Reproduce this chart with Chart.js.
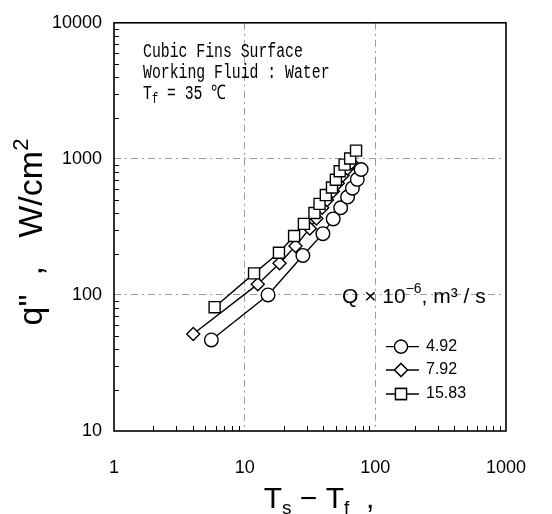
<!DOCTYPE html>
<html>
<head>
<meta charset="utf-8">
<script src="https://cdn.jsdelivr.net/npm/chart.js@4.4.1/dist/chart.umd.min.js"></script>
<style>
  html, body { margin: 0; padding: 0; background: #fff; }
</style>
</head>
<body>
<canvas id="myChart" width="552" height="514"></canvas>
<script>
// values (x = Ts - Tf, y = q'' in W/cm2)
const q492_x = [5.56, 15.1, 27.9, 39.7, 47.6, 54.3, 61.3, 66.8, 72.8, 77.9];
const q492_y = [46.7, 100, 195, 282, 362, 437, 524, 609, 707, 835];

const q792_x = [4.04, 12.6, 18.5, 24.5, 31.5, 35.4, 39.2, 42.7, 47.4, 51.6, 56.2, 61.3, 65.6];
const q792_y = [51.6, 120, 171, 229, 308, 364, 437, 499, 579, 661, 755, 848, 937];

const q1583_x = [5.89, 11.8, 18.3, 23.9, 28.4, 34.2, 37.4, 41.8, 46.6, 49.9, 53.4, 58.2, 64.2, 71.2];
const q1583_y = [81.3, 144, 204, 271, 333, 400, 467, 542, 616, 703, 811, 907, 1007, 1150];

const xTicks = [1, 10, 100, 1000];
const yTicks = [10, 100, 1000, 10000];
const seriesLabels = ['4.92', '7.92', '15.83'];
const seriesMarkers = ['circle', 'rectRot', 'rect'];

const SANS = '"Liberation Sans", Arial, sans-serif';

function pts(xs, ys) {
  return xs.map((x, i) => ({ x: x, y: ys[i] }));
}

function ds(xs, ys, marker, r) {
  return {
    data: pts(xs, ys),
    showLine: true,
    borderColor: '#000',
    borderWidth: 1.4,
    pointStyle: marker,
    pointRadius: r,
    pointBackgroundColor: '#fff',
    pointBorderColor: '#000',
    pointBorderWidth: 1.4
  };
}

// draw a run of text pieces (sub/superscripts) starting at x
function drawRuns(ctx, x, y, runs, align) {
  let w = 0;
  runs.forEach(r => { ctx.font = r.font; w += ctx.measureText(r.t).width; });
  let cx = align === 'center' ? x - w / 2 : x;
  runs.forEach(r => {
    ctx.font = r.font;
    ctx.fillText(r.t, cx, y + (r.dy || 0));
    cx += ctx.measureText(r.t).width;
  });
}

const framePlugin = {
  id: 'frame',
  afterDatasetsDraw(chart) {
    const ctx = chart.ctx, a = chart.chartArea;
    const xs = chart.scales.x, ys = chart.scales.y;
    ctx.save();
    ctx.strokeStyle = '#000';
    ctx.lineWidth = 1;
    // minor ticks on left and bottom
    ctx.beginPath();
    for (let d = 1; d < 1000; d *= 10) {
      for (let k = 2; k <= 9; k++) {
        const px = Math.round(xs.getPixelForValue(d * k)) + 0.5;
        ctx.moveTo(px, a.bottom);
        ctx.lineTo(px, a.bottom - 5);
      }
    }
    for (let d = 10; d < 10000; d *= 10) {
      for (let k = 2; k <= 9; k++) {
        const py = Math.round(ys.getPixelForValue(d * k)) + 0.5;
        ctx.moveTo(a.left, py);
        ctx.lineTo(a.left + 5, py);
      }
    }
    ctx.stroke();
    ctx.lineWidth = 1.6;
    ctx.strokeRect(a.left, a.top, a.right - a.left, a.bottom - a.top);
    ctx.restore();
  }
};

const textPlugin = {
  id: 'texts',
  afterDraw(chart) {
    const ctx = chart.ctx;
    ctx.save();
    ctx.fillStyle = '#000';
    ctx.textBaseline = 'alphabetic';

    // note box, narrow monospace like the original
    ctx.save();
    ctx.translate(143, 0);
    ctx.scale(0.74, 1);
    const mono = '20px "Liberation Mono", "DejaVu Sans Mono", monospace';
    const monoSm = '14px "Liberation Mono", "DejaVu Sans Mono", monospace';
    ctx.font = mono;
    ctx.fillText('Cubic Fins Surface', 0, 57);
    ctx.fillText('Working Fluid : Water', 0, 78);
    drawRuns(ctx, 0, 99, [
      { t: 'T', font: mono },
      { t: 'f', font: monoSm, dy: 4 },
      { t: ' = 35 \u2103', font: mono }
    ]);
    ctx.restore();

    // legend title
    const f20 = '21px ' + SANS, f14 = '14px ' + SANS;
    drawRuns(ctx, 342, 303, [
      { t: 'Q \u00d7 10', font: f20 },
      { t: '\u22126', font: f14, dy: -10 },
      { t: ', m\u00b3 / s', font: f20 }
    ]);

    // legend entries
    const rows = [346.7, 370, 394];
    const radii = [6.5, 6.5, 7.8];
    rows.forEach((y, i) => {
      ctx.strokeStyle = '#000';
      ctx.lineWidth = 1.3;
      ctx.beginPath();
      ctx.moveTo(386, y);
      ctx.lineTo(419, y);
      ctx.stroke();
      ctx.fillStyle = '#fff';
      Chart.helpers.drawPoint(ctx, { pointStyle: seriesMarkers[i], radius: radii[i], borderWidth: 1.3 }, 401, y);
      ctx.fill();
      ctx.stroke();
      ctx.fillStyle = '#000';
      ctx.font = '16px ' + SANS;
      ctx.textBaseline = 'middle';
      ctx.fillText(seriesLabels[i], 426, y);
      ctx.textBaseline = 'alphabetic';
    });

    // x axis title
    const f30 = '30px ' + SANS, f19 = '19px ' + SANS;
    drawRuns(ctx, 319, 508, [
      { t: 'T', font: f30 },
      { t: 's', font: f19, dy: 6 },
      { t: ' \u2212 ', font: f30 },
      { t: 'T', font: f30 },
      { t: 'f', font: f19, dy: 6 },
      { t: '  ,', font: f30 }
    ], 'center');

    // y axis title, rotated
    ctx.save();
    ctx.translate(42, 232);
    ctx.rotate(-Math.PI / 2);
    const f32 = '34px ' + SANS, f21 = '22px ' + SANS;
    drawRuns(ctx, 0, 0, [
      { t: 'q', font: f32 },
      { t: '"', font: f32 },
      { t: '  ,   ', font: f32 },
      { t: 'W/cm', font: f32 },
      { t: '2', font: f21, dy: -14 }
    ], 'center');
    ctx.restore();

    ctx.restore();
  }
};

function gridColor(edges) {
  return c => (c.tick && edges.indexOf(c.tick.value) >= 0) ? 'rgba(0,0,0,0)' : '#9a9a9a';
}

new Chart(document.getElementById('myChart'), {
  type: 'scatter',
  data: {
    datasets: [
      ds(q1583_x, q1583_y, 'rect', 7.8),
      ds(q792_x, q792_y, 'rectRot', 6.5),
      ds(q492_x, q492_y, 'circle', 6.8)
    ]
  },
  options: {
    responsive: false,
    animation: false,
    layout: { padding: { top: 14, right: 35, left: 0, bottom: 0 } },
    plugins: { legend: { display: false }, tooltip: { enabled: false } },
    scales: {
      x: {
        type: 'logarithmic',
        min: 1,
        max: 1000,
        afterBuildTicks: s => { s.ticks = xTicks.map(v => ({ value: v })); },
        afterFit: s => { s.height = 83; },
        ticks: {
          callback: v => String(v),
          color: '#000',
          font: { family: SANS, size: 18 },
          padding: 26,
          maxRotation: 0,
          autoSkip: false
        },
        grid: { color: gridColor([1, 1000]), lineWidth: 1, drawTicks: false },
        border: { display: false, dash: [7, 4, 2, 4] }
      },
      y: {
        type: 'logarithmic',
        min: 10,
        max: 10000,
        afterBuildTicks: s => { s.ticks = yTicks.map(v => ({ value: v })); },
        afterFit: s => { s.width = 114; },
        ticks: {
          callback: v => String(v),
          color: '#000',
          font: { family: SANS, size: 18 },
          padding: 12,
          autoSkip: false
        },
        grid: { color: gridColor([10, 10000]), lineWidth: 1, drawTicks: false },
        border: { display: false, dash: [7, 4, 2, 4] }
      }
    }
  },
  plugins: [framePlugin, textPlugin]
});
</script>
</body>
</html>
